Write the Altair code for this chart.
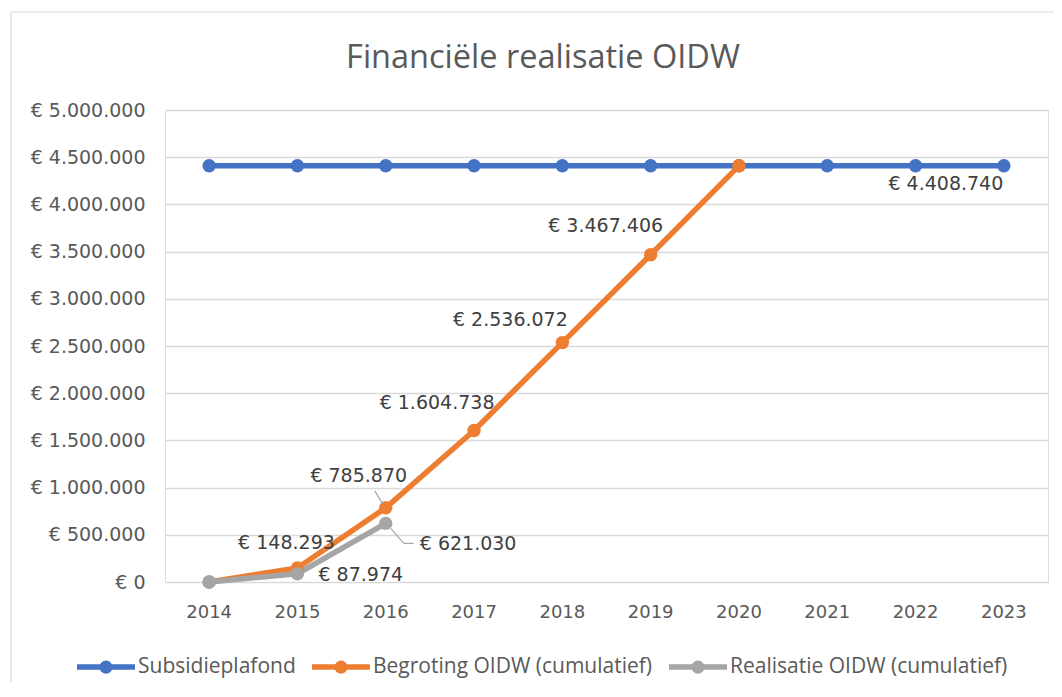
import altair as alt
import pandas as pd

# ---- data ----
years = ["2014", "2015", "2016", "2017", "2018", "2019", "2020", "2021", "2022", "2023"]
series_names = ["Subsidieplafond", "Begroting OIDW (cumulatief)", "Realisatie OIDW (cumulatief)"]
plafond = [4408740, 4408740, 4408740, 4408740, 4408740, 4408740, 4408740, 4408740, 4408740, 4408740]
begroting = [0, 148293, 785870, 1604738, 2536072, 3467406, 4408740]
realisatie = [0, 87974, 621030]
colors = ["#4472C4", "#ED7D31", "#A5A5A5"]
y_ticks = [0, 500000, 1000000, 1500000, 2000000, 2500000, 3000000, 3500000, 4000000, 4500000, 5000000]
chart_title = "Financiële realisatie OIDW"

rows = []
for name, vals in zip(series_names, [plafond, begroting, realisatie]):
    for yr, v in zip(years, vals):
        rows.append({"jaar": yr, "serie": name, "bedrag": v})
df = pd.DataFrame(rows)

# which points carry a data label, and how each label sits (style only)
label_style = {
    ("Subsidieplafond", "2023"): dict(align="center", dx=-58, dy=18),
    ("Begroting OIDW (cumulatief)", "2015"): dict(align="center", dx=-11, dy=-25),
    ("Begroting OIDW (cumulatief)", "2016"): dict(align="center", dx=-27, dy=-32),
    ("Begroting OIDW (cumulatief)", "2017"): dict(align="center", dx=-37, dy=-28),
    ("Begroting OIDW (cumulatief)", "2018"): dict(align="center", dx=-52, dy=-23),
    ("Begroting OIDW (cumulatief)", "2019"): dict(align="center", dx=-45, dy=-29),
    ("Realisatie OIDW (cumulatief)", "2015"): dict(align="left", dx=21, dy=1),
    ("Realisatie OIDW (cumulatief)", "2016"): dict(align="left", dx=34, dy=21),
}

LABEL_FONT = "DejaVu Sans"
TXT = "#595959"

x_enc = alt.X("jaar:O", title=None, sort=years,
              axis=alt.Axis(labelAngle=0, labelPadding=21, labelFontSize=18,
                            labelFont=LABEL_FONT, labelColor=TXT, grid=False,
                            domain=False, ticks=False, tickSize=0))
y_enc = alt.Y("bedrag:Q", title=None,
              scale=alt.Scale(domain=[0, 5000000], nice=False),
              axis=alt.Axis(values=y_ticks, format="$,.0f", labelPadding=20,
                            labelFontSize=19, labelFont=LABEL_FONT, labelColor=TXT,
                            grid=True, gridColor="#D9D9D9", gridWidth=1.3,
                            domain=False, ticks=False, tickSize=0))

sym_path = ("M-1,0L1,0M0.13,0A0.13,0.13,0,1,1,-0.13,0"
            "A0.13,0.13,0,1,1,0.13,0Z")

legend_def = alt.Legend(
    title=None, orient="none", direction="horizontal",
    legendX=-91, legendY=525,
    symbolType=sym_path, symbolSize=3364, symbolStrokeWidth=5.5,
    symbolOpacity=1,
    labelFont="Open Sans", labelFontSize=21, labelColor=TXT, labelLimit=400,
    labelOffset=0, columnPadding=5,
)

lines = alt.Chart(df).mark_line(strokeWidth=5.5).encode(
    x=x_enc, y=y_enc,
    stroke=alt.Stroke("serie:N", sort=series_names,
                      scale=alt.Scale(domain=series_names, range=colors),
                      legend=legend_def),
)
points = alt.Chart(df).mark_point(filled=True, size=180, opacity=1).encode(
    x=alt.X("jaar:O", sort=years), y=alt.Y("bedrag:Q"),
    fill=alt.Fill("serie:N", sort=series_names,
                  scale=alt.Scale(domain=series_names, range=colors),
                  legend=legend_def),
)

layers = [lines, points]

# leader lines (style offsets from the labelled points)
leader_specs = [
    ("Begroting OIDW (cumulatief)", "2016", dict(xOffset=-11, yOffset=-17, x2Offset=-3, y2Offset=-4)),
    ("Realisatie OIDW (cumulatief)", "2016", dict(xOffset=5, yOffset=5, x2Offset=18, y2Offset=20)),
    ("Realisatie OIDW (cumulatief)", "2016", dict(xOffset=18, yOffset=20, x2Offset=28, y2Offset=20)),
]
for serie, yr, off in leader_specs:
    sub = df[(df.serie == serie) & (df.jaar == yr)]
    layers.append(
        alt.Chart(sub).mark_rule(color="#A6A6A6", strokeWidth=1.2, **off).encode(
            x=alt.X("jaar:O", sort=years), x2=alt.X2("jaar"),
            y=alt.Y("bedrag:Q"), y2=alt.Y2("bedrag"),
        )
    )

for (serie, yr), st in label_style.items():
    sub = df[(df.serie == serie) & (df.jaar == yr)]
    layers.append(
        alt.Chart(sub).mark_text(
            font=LABEL_FONT, fontSize=19, color="#404040", baseline="middle", **st
        ).encode(
            x=alt.X("jaar:O", sort=years), y=alt.Y("bedrag:Q"),
            text=alt.Text("bedrag:Q", format="$,.0f"),
        )
    )

one = pd.DataFrame({"t": [chart_title]})
# chart frame (decorative border lines, left and top) and the chart title
frame_left = alt.Chart(one).mark_rule(color="#D9D9D9", strokeWidth=1.2).encode(
    x=alt.value(-154), y=alt.value(-98), y2=alt.value(600))
frame_top = alt.Chart(one).mark_rule(color="#D9D9D9", strokeWidth=1.2).encode(
    x=alt.value(-154), x2=alt.value(900), y=alt.value(-98))
title_mark = alt.Chart(one).mark_text(
    font="Open Sans", fontSize=32.5, color=TXT, align="center", baseline="middle"
).encode(x=alt.value(378), y=alt.value(-52), text="t:N")
layers = [frame_left, frame_top, title_mark] + layers

chart = alt.layer(*layers).properties(
    width=883, height=472,
    autosize=alt.AutoSizeParams(type="none"),
    padding={"left": 157, "top": 102, "right": 6, "bottom": 100},
).configure_view(stroke=None).configure(
    background="white"
)

chart.save("out.html", embed_options={
    "renderer": "svg", "actions": False,
    "formatLocale": {"decimal": ",", "thousands": ".", "grouping": [3],
                     "currency": ["€ ", ""]},
})
